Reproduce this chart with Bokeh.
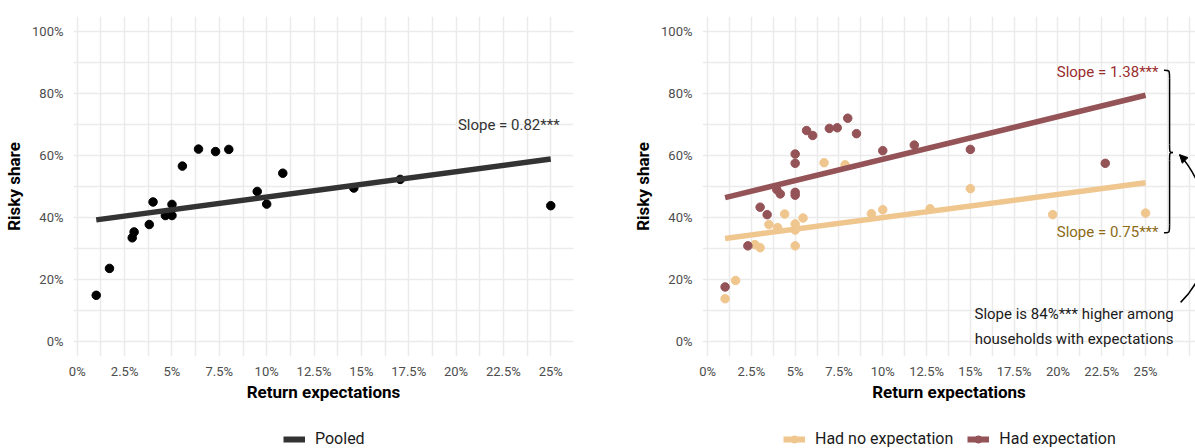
from bokeh.plotting import figure
from bokeh.layouts import row, column
from bokeh.models import FixedTicker, Legend, LegendItem, Range1d, Arrow, NormalHead
from bokeh.core.properties import value
from bokeh.embed import file_html
from bokeh.resources import INLINE

FONT = "Roboto"

# ---- axis ticks -------------------------------------------------------------
x_ticks = [0, 2.5, 5, 7.5, 10, 12.5, 15, 17.5, 20, 22.5, 25]
x_tick_labels = ["0%", "2.5%", "5%", "7.5%", "10%", "12.5%", "15%", "17.5%", "20%", "22.5%", "25%"]
y_ticks = [0, 20, 40, 60, 80, 100]
y_tick_labels = ["0%", "20%", "40%", "60%", "80%", "100%"]
y_minor = [10, 30, 50, 70, 90]

# ---- pooled sample (percent) ------------------------------------------------
pooled_x = [1.0, 1.7, 2.9, 3.0, 3.8, 4.0, 4.65, 5.0, 5.0, 5.55, 6.4, 7.3, 8.0,
            9.5, 10.0, 10.85, 14.6, 17.05, 25.0]
pooled_y = [14.8, 23.5, 33.4, 35.3, 37.7, 45.0, 40.6, 40.6, 44.2, 56.6, 62.1, 61.3, 62.0,
            48.4, 44.3, 54.3, 49.5, 52.3, 43.8]

# ---- split by whether households stated an expectation ----------------------
exp_x = [1.0, 2.3, 3.0, 3.4, 3.95, 4.15, 5.0, 5.0, 5.0, 5.0, 5.65, 6.0, 6.95, 7.4,
         8.0, 8.5, 10.0, 11.8, 15.0, 22.7]
exp_y = [17.5, 30.8, 43.3, 40.9, 49.0, 47.6, 48.1, 47.2, 57.5, 60.5, 68.1, 66.5, 68.8, 69.0,
         72.1, 67.1, 61.6, 63.4, 62.0, 57.5]

noexp_x = [1.0, 1.6, 2.7, 3.0, 3.5, 4.0, 4.4, 5.0, 5.0, 5.0, 5.45, 6.65, 7.85, 9.35,
           10.0, 12.7, 15.0, 19.7, 25.0]
noexp_y = [13.7, 19.6, 31.2, 30.2, 37.7, 36.7, 41.1, 37.9, 35.9, 30.8, 39.8, 57.7, 57.0, 41.2,
           42.5, 42.8, 49.3, 40.9, 41.4]

# ---- fitted lines: value at the first x, and slope --------------------------
fit_x = [1.0, 25.0]
pooled_start, pooled_slope = 39.2, 0.82
exp_start, exp_slope = 46.4, 1.38
noexp_start, noexp_slope = 33.2, 0.75


def fit_line(start, slope):
    return [start + slope * (x - fit_x[0]) for x in fit_x]


C_POOLED = "#333333"
C_EXP = "#945357"
C_NOEXP = "#f0c68f"
C_EXP_TXT = "#9a2d2d"
C_NOEXP_TXT = "#8c6a16"

PANEL_H = 420


def style(p, x_minor):
    p.xaxis.ticker = FixedTicker(ticks=x_ticks, minor_ticks=x_minor)
    p.yaxis.ticker = FixedTicker(ticks=y_ticks, minor_ticks=y_minor)
    p.xaxis.major_label_overrides = {float(k): v for k, v in zip(x_ticks, x_tick_labels)}
    p.yaxis.major_label_overrides = {float(k): v for k, v in zip(y_ticks, y_tick_labels)}
    p.axis.axis_line_color = None
    p.axis.major_tick_line_color = None
    p.axis.minor_tick_line_color = None
    p.axis.major_tick_out = 0
    p.axis.major_tick_in = 0
    p.axis.minor_tick_out = 0
    p.axis.minor_tick_in = 0
    p.axis.major_label_text_font = FONT
    p.axis.major_label_text_font_size = "13px"
    p.axis.major_label_text_color = "#4d4d4d"
    p.axis.axis_label_text_font = FONT
    p.axis.axis_label_text_font_style = "bold"
    p.axis.axis_label_text_font_size = "17px"
    p.axis.axis_label_text_color = "#000000"
    p.xaxis.axis_label = "Return expectations"
    p.yaxis.axis_label = "Risky share"
    p.xaxis.major_label_standoff = 7
    p.xaxis.axis_label_standoff = 0
    p.yaxis.major_label_standoff = 10
    p.yaxis.axis_label_standoff = 5
    p.grid.grid_line_color = "#ebebeb"
    p.grid.grid_line_width = 1.5
    p.grid.minor_grid_line_color = "#ebebeb"
    p.grid.minor_grid_line_width = 1.5
    p.outline_line_color = None
    p.background_fill_color = "white"
    p.border_fill_color = "white"


# ---- left panel: pooled -----------------------------------------------------
left = figure(width=620, height=PANEL_H, output_backend="svg", toolbar_location=None,
              x_range=Range1d(-0.2, 26.2), y_range=Range1d(-5, 105),
              min_border_left=73, min_border_right=47, min_border_top=16,
              min_border_bottom=PANEL_H - 356)
style(left, [1.25, 3.75, 6.25, 8.75, 11.25, 13.75, 16.25, 18.75, 21.25, 23.75])

left.scatter(pooled_x, pooled_y, size=8.5, color="#000000")
left.line(fit_x, fit_line(pooled_start, pooled_slope), line_color=C_POOLED, line_width=5.5)
left.text([25.47], [70.0], text=[f"Slope = {pooled_slope:.2f}***"], text_font=value(FONT),
          text_font_size="15px", text_color="#333333", text_align="right",
          text_baseline="middle")

# ---- right panel: by expectation status -------------------------------------
right = figure(width=575, height=PANEL_H, output_backend="svg", toolbar_location=None,
               x_range=Range1d(-0.29, 27.85), y_range=Range1d(-5, 105),
               min_border_left=82, min_border_right=0, min_border_top=16,
               min_border_bottom=PANEL_H - 356)
style(right, [1.25, 3.75, 6.25, 8.75, 11.25, 13.75, 16.25, 18.75, 21.25, 23.75, 26.25, 27.5])

right.scatter(noexp_x, noexp_y, size=8.5, color=C_NOEXP)
right.scatter(exp_x, exp_y, size=8.5, color=C_EXP)
right.line(fit_x, fit_line(noexp_start, noexp_slope), line_color=C_NOEXP, line_width=5.5)
right.line(fit_x, fit_line(exp_start, exp_slope), line_color=C_EXP, line_width=5.5)

right.text([25.74], [86.9], text=[f"Slope = {exp_slope:.2f}***"], text_font=value(FONT),
           text_font_size="15px", text_color=C_EXP_TXT, text_align="right",
           text_baseline="middle")
right.text([25.74], [35.2], text=[f"Slope = {noexp_slope:.2f}***"], text_font=value(FONT),
           text_font_size="15px", text_color=C_NOEXP_TXT, text_align="right",
           text_baseline="middle")

# curly brace joining the two slope labels
bx_end, bx_spine, bx_tip = 26.05, 26.37, 26.56
by_top, by_mid, by_bot, curl = 87.6, 61.0, 35.0, 2.6
right.bezier(x0=[bx_end, bx_spine, bx_spine, bx_spine],
             y0=[by_top, by_mid + curl, by_mid - curl, by_bot + curl],
             x1=[bx_spine, bx_tip, bx_tip, bx_end],
             y1=[by_top - curl, by_mid, by_mid, by_bot],
             cx0=[bx_spine, bx_spine, bx_spine, bx_spine],
             cy0=[by_top, by_mid, by_mid, by_bot],
             cx1=[bx_spine, bx_spine, bx_spine, bx_spine],
             cy1=[by_top, by_mid, by_mid, by_bot],
             line_color="#000000", line_width=1.5)
right.segment(x0=[bx_spine, bx_spine], y0=[by_top - curl, by_mid - curl],
              x1=[bx_spine, bx_spine], y1=[by_mid + curl, by_bot + curl],
              line_color="#000000", line_width=1.5)

# curved pointer from the note to the brace
right.bezier(x0=[27.0], y0=[12.5], x1=[26.94], y1=[60.3],
             cx0=[29.6], cy0=[27.0], cx1=[28.6], cy1=[50.3],
             line_color="#000000", line_width=1.5)
right.add_layout(Arrow(x_start=27.06, y_start=59.6, x_end=26.94, y_end=60.3,
                       line_color="#000000", line_width=1.5,
                       end=NormalHead(size=8, fill_color="#000000", line_color="#000000")))

right.text([20.92, 20.92], [8.86, 0.78],
           text=["Slope is 84%*** higher among", "households with expectations"],
           text_font=value(FONT), text_font_size="15px", text_color="#1a1a1a",
           text_align="center", text_baseline="middle")

# ---- legend strip under both panels -----------------------------------------
LEG_H = 448 - PANEL_H
leg = figure(width=1195, height=LEG_H, output_backend="svg", toolbar_location=None,
             x_range=Range1d(0, 1195), y_range=Range1d(0, LEG_H),
             x_axis_location=None, y_axis_location=None,
             min_border_left=0, min_border_right=0, min_border_top=0, min_border_bottom=0)
leg.grid.visible = False
leg.outline_line_color = None
leg.background_fill_color = "white"
leg.border_fill_color = "white"

# key samples, kept outside the strip's visible range
kx, ky = [-20, -10], [-20, -20]
k_pooled = leg.line(kx, ky, line_color=C_POOLED, line_width=6)
k_noexp_l = leg.line(kx, ky, line_color=C_NOEXP, line_width=6)
k_noexp_p = leg.scatter(kx[:1], ky[:1], size=8, color=C_NOEXP)
k_exp_l = leg.line(kx, ky, line_color=C_EXP, line_width=6)
k_exp_p = leg.scatter(kx[:1], ky[:1], size=8, color=C_EXP)


def make_legend(items, x):
    return Legend(items=items, location=(x, 0), orientation="horizontal",
                  background_fill_alpha=0, border_line_alpha=0, padding=0, margin=0,
                  glyph_width=22, glyph_height=18, label_height=18, label_standoff=10,
                  spacing=14, label_text_font=FONT, label_text_font_size="16px",
                  label_text_color="#1a1a1a")


leg.add_layout(make_legend([LegendItem(label="Pooled", renderers=[k_pooled])], 283))
leg.add_layout(make_legend([
    LegendItem(label="Had no expectation", renderers=[k_noexp_l, k_noexp_p]),
    LegendItem(label="Had expectation", renderers=[k_exp_l, k_exp_p]),
], 783))

layout = column(row(left, right), leg)
open("out.html", "w").write(file_html(layout, INLINE))
